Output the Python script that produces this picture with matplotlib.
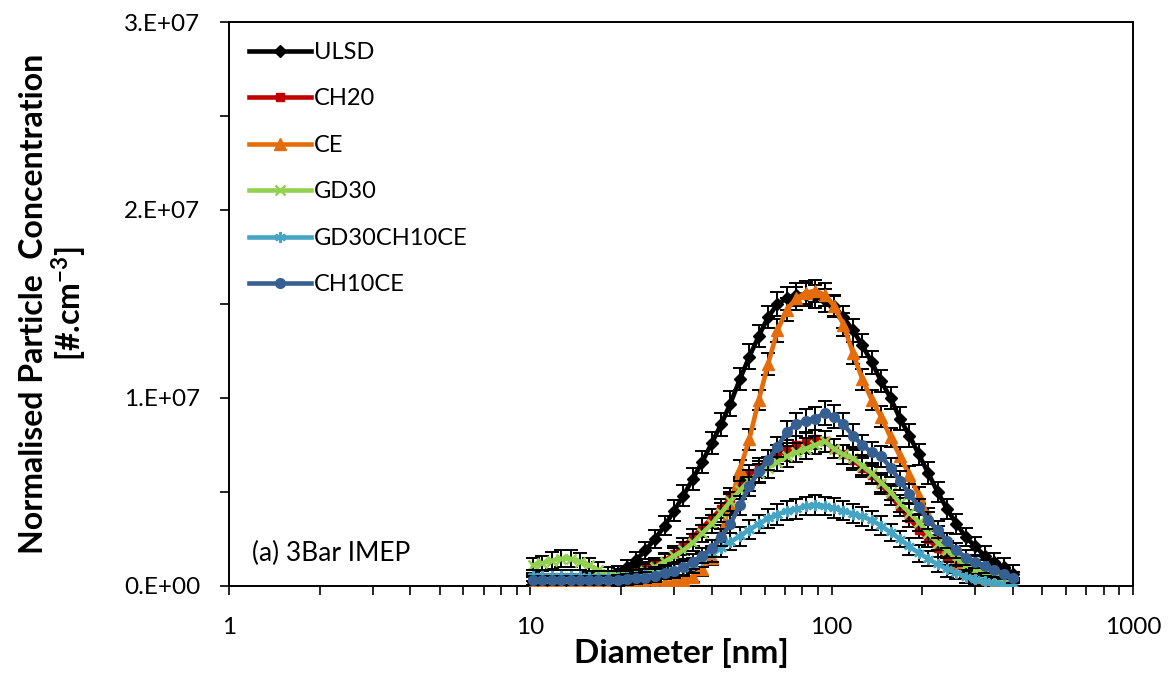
import matplotlib
matplotlib.use("Agg")
import matplotlib.pyplot as plt
from matplotlib.ticker import FixedLocator, LogLocator, NullFormatter
import numpy as np

plt.rcParams['font.family'] = ['Lato', 'DejaVu Sans']
plt.rcParams['mathtext.fontset'] = 'custom'
plt.rcParams['mathtext.rm'] = 'Lato'
plt.rcParams['mathtext.bf'] = 'Lato:bold'

# SMPS bin mid-point diameters [nm]
diameter = [10.2, 10.9, 11.8, 12.6, 13.6, 14.6, 15.7, 16.8, 18.1, 19.5,
            20.9, 22.5, 24.1, 25.9, 27.9, 30.0, 32.2, 34.6, 37.2, 40.0,
            43.0, 46.1, 49.6, 53.3, 57.3, 61.5, 66.1, 71.0, 76.4, 82.0,
            88.2, 94.7, 101.8, 109.4, 117.6, 126.4, 135.8, 145.9, 156.8, 168.5,
            181.1, 194.6, 209.1, 224.7, 241.4, 259.5, 278.8, 299.6, 322.0, 346.0,
            371.8, 399.5]

# concentrations, in units of 1e6 #/cm3
ulsd = [0.2, 0.2, 0.2, 0.2, 0.2, 0.2, 0.25, 0.3, 0.45, 0.7,
        1.0, 1.4, 1.9, 2.5, 3.2, 4.0, 4.8, 5.7, 6.6, 7.6,
        8.6, 9.7, 11.0, 12.2, 13.3, 14.3, 15.0, 15.3, 15.5, 15.5,
        15.4, 15.2, 14.9, 14.3, 13.6, 12.8, 11.9, 10.9, 10.0, 8.9,
        8.0, 7.0, 6.0, 5.0, 4.1, 3.3, 2.6, 2.1, 1.6, 1.25,
        1.0, 0.65]
ch20 = [0.35, 0.35, 0.35, 0.35, 0.35, 0.35, 0.35, 0.4, 0.45, 0.5,
        0.6, 0.75, 0.9, 1.1, 1.35, 1.7, 2.1, 2.6, 3.1, 3.6,
        4.1, 4.7, 5.3, 5.9, 6.3, 6.7, 7.0, 7.2, 7.5, 7.6,
        7.8, 7.7, 7.3, 7.0, 6.7, 6.3, 5.9, 5.4, 4.8, 4.2,
        3.6, 3.0, 2.5, 2.0, 1.5, 1.1, 0.8, 0.6, 0.45, 0.3,
        0.2, 0.1]
ce = [0.05, 0.05, 0.05, 0.05, 0.05, 0.05, 0.05, 0.05, 0.05, 0.05,
      0.07, 0.08, 0.1, 0.12, 0.15, 0.2, 0.3, 0.5, 0.9, 1.5,
      2.8, 4.4, 6.2, 7.8, 9.9, 11.8, 13.6, 14.7, 15.3, 15.6,
      15.7, 15.5, 14.9, 13.9, 12.4, 11.0, 9.9, 9.0, 7.9, 6.9,
      5.9, 4.8, 3.7, 2.8, 2.0, 1.3, 0.8, 0.5, 0.3, 0.2,
      0.1, 0.05]
gd30 = [1.1, 1.2, 1.35, 1.45, 1.45, 1.3, 1.1, 0.85, 0.65, 0.55,
        0.55, 0.65, 0.8, 1.0, 1.3, 1.6, 1.9, 2.3, 2.8, 3.3,
        3.9, 4.5, 5.1, 5.6, 6.0, 6.3, 6.6, 6.9, 7.1, 7.3,
        7.5, 7.7, 7.3, 7.0, 6.8, 6.4, 6.0, 5.5, 5.0, 4.4,
        3.9, 3.4, 2.8, 2.3, 1.9, 1.5, 1.1, 0.85, 0.65, 0.45,
        0.3, 0.1]
gd30ch10ce = [0.55, 0.55, 0.55, 0.55, 0.55, 0.55, 0.5, 0.5, 0.5, 0.5,
              0.5, 0.55, 0.6, 0.65, 0.75, 0.85, 0.95, 1.1, 1.4, 1.7,
              2.0, 2.35, 2.65, 3.0, 3.3, 3.6, 3.8, 4.0, 4.1, 4.25,
              4.3, 4.25, 4.15, 4.0, 3.85, 3.7, 3.5, 3.2, 2.85, 2.5,
              2.1, 1.75, 1.45, 1.15, 0.9, 0.7, 0.5, 0.35, 0.25, 0.15,
              0.1, 0.05]
ch10ce = [0.3, 0.3, 0.3, 0.3, 0.3, 0.3, 0.3, 0.3, 0.3, 0.3,
          0.35, 0.4, 0.45, 0.55, 0.7, 0.8, 1.0, 1.3, 1.6, 2.0,
          2.6, 3.3, 4.3, 5.3, 6.1, 6.7, 7.4, 8.2, 8.6, 8.8,
          8.9, 9.2, 9.0, 8.6, 8.0, 7.5, 7.1, 6.9, 6.3, 5.6,
          4.9, 4.2, 3.5, 3.0, 2.4, 1.9, 1.5, 1.3, 1.05, 0.85,
          0.65, 0.45]

# standard deviation (error bars), same units
ulsd_err = [0.3, 0.3, 0.3, 0.3, 0.3, 0.3, 0.3, 0.3, 0.35, 0.35,
            0.4, 0.4, 0.45, 0.5, 0.5, 0.55, 0.55, 0.6, 0.6, 0.6,
            0.6, 0.65, 0.6, 0.65, 0.6, 0.6, 0.65, 0.6, 0.6, 0.6,
            0.6, 0.6, 0.55, 0.6, 0.6, 0.6, 0.6, 0.6, 0.6, 0.6,
            0.6, 0.55, 0.6, 0.55, 0.55, 0.55, 0.5, 0.5, 0.5, 0.5,
            0.5, 0.45]
ch20_err = [0.3, 0.3, 0.3, 0.3, 0.3, 0.3, 0.3, 0.3, 0.3, 0.35,
            0.35, 0.35, 0.4, 0.4, 0.4, 0.45, 0.45, 0.45, 0.5, 0.5,
            0.5, 0.5, 0.5, 0.55, 0.5, 0.55, 0.5, 0.55, 0.5, 0.55,
            0.5, 0.55, 0.5, 0.5, 0.55, 0.5, 0.5, 0.5, 0.5, 0.5,
            0.45, 0.45, 0.45, 0.45, 0.4, 0.4, 0.4, 0.35, 0.35, 0.3,
            0.3, 0.3]
ce_err = [0.2, 0.2, 0.2, 0.2, 0.2, 0.2, 0.2, 0.2, 0.2, 0.2,
          0.2, 0.2, 0.25, 0.25, 0.25, 0.3, 0.3, 0.3, 0.35, 0.4,
          0.45, 0.5, 0.5, 0.55, 0.55, 0.6, 0.6, 0.6, 0.6, 0.6,
          0.6, 0.6, 0.6, 0.6, 0.6, 0.55, 0.55, 0.55, 0.5, 0.5,
          0.5, 0.45, 0.45, 0.4, 0.4, 0.35, 0.3, 0.3, 0.25, 0.2,
          0.2, 0.2]
gd30_err = [0.4, 0.4, 0.45, 0.45, 0.45, 0.45, 0.4, 0.4, 0.35, 0.35,
            0.35, 0.35, 0.35, 0.4, 0.4, 0.4, 0.45, 0.45, 0.45, 0.5,
            0.5, 0.5, 0.5, 0.55, 0.5, 0.55, 0.5, 0.55, 0.5, 0.55,
            0.5, 0.55, 0.5, 0.5, 0.5, 0.5, 0.5, 0.5, 0.45, 0.45,
            0.45, 0.45, 0.45, 0.4, 0.4, 0.4, 0.35, 0.35, 0.3, 0.3,
            0.3, 0.3]
gd30ch10ce_err = [0.3, 0.3, 0.3, 0.3, 0.3, 0.3, 0.3, 0.3, 0.3, 0.3,
                  0.3, 0.3, 0.3, 0.35, 0.35, 0.35, 0.4, 0.4, 0.4, 0.45,
                  0.45, 0.45, 0.5, 0.5, 0.5, 0.5, 0.55, 0.5, 0.55, 0.5,
                  0.55, 0.5, 0.55, 0.5, 0.5, 0.5, 0.5, 0.5, 0.45, 0.45,
                  0.45, 0.45, 0.4, 0.4, 0.4, 0.35, 0.35, 0.3, 0.3, 0.3,
                  0.3, 0.3]
ch10ce_err = [0.25, 0.25, 0.25, 0.25, 0.25, 0.25, 0.25, 0.25, 0.25, 0.3,
              0.3, 0.3, 0.3, 0.35, 0.35, 0.35, 0.4, 0.4, 0.4, 0.45,
              0.45, 0.5, 0.5, 0.5, 0.55, 0.55, 0.55, 0.6, 0.6, 0.6,
              0.6, 0.65, 0.6, 0.6, 0.6, 0.55, 0.55, 0.55, 0.5, 0.5,
              0.5, 0.45, 0.45, 0.45, 0.4, 0.4, 0.4, 0.35, 0.35, 0.35,
              0.3, 0.3]

y_ticks = [0, 1e7, 2e7, 3e7]
y_tick_labels = ['0.E+00', '1.E+07', '2.E+07', '3.E+07']
x_ticks = [1, 10, 100, 1000]
x_tick_labels = ['1', '10', '100', '1000']

series = [
    ("ULSD", ulsd, ulsd_err, "black", "D", 6.5, 1.0),
    ("CH20", ch20, ch20_err, "#C00000", "s", 6, 1.0),
    ("CE", ce, ce_err, "#E46C0A", "^", 8, 1.0),
    ("GD30", gd30, gd30_err, "#92D050", "x", 7, 1.8),
    ("GD30CH10CE", gd30ch10ce, gd30ch10ce_err, "#46A5C4", (6, 2, 0), 8, 1.8),
    ("CH10CE", ch10ce, ch10ce_err, "#376092", "o", 7, 1.0),
]

fig = plt.figure(figsize=(11.7, 6.75), dpi=100)
ax = fig.add_axes([0.1957, 0.1319, 0.7727, 0.8355])

d = np.array(diameter)
for i, (name, vals, errs, col, mk, ms, mew) in enumerate(series):
    y = np.array(vals) * 1e6
    e = np.array(errs) * 1e6
    ax.errorbar(d, y, yerr=e, fmt='none', ecolor='black', elinewidth=1.4,
                capsize=5, capthick=1.4, zorder=2 + 2 * i)
    ax.plot(d, y, color=col, lw=3.3, marker=mk, ms=ms, mew=mew,
            mec=col, mfc=col, label=name, zorder=3 + 2 * i)

ax.set_xscale('log')
ax.set_xlim(1, 1000)
ax.set_ylim(0, 3e7)
ax.xaxis.set_major_locator(FixedLocator(x_ticks))
ax.set_xticklabels(x_tick_labels)
ax.xaxis.set_minor_locator(LogLocator(base=10, subs=np.arange(2, 10)))
ax.xaxis.set_minor_formatter(NullFormatter())
ax.yaxis.set_major_locator(FixedLocator(y_ticks))
ax.set_yticklabels(y_tick_labels)
ax.yaxis.set_minor_locator(FixedLocator([0.5e7, 1.5e7, 2.5e7]))

ax.tick_params(axis='both', which='both', direction='out', length=6.5, width=1.2,
               labelsize=17.5)
ax.tick_params(axis='x', which='major', pad=16)
ax.tick_params(axis='y', which='major', pad=14)
for sp in ax.spines.values():
    sp.set_linewidth(1.4)

ax.set_xlabel('Diameter [nm]', fontsize=24, fontweight='bold', labelpad=0)
ax.set_ylabel('Normalised Particle  Concentration\n[#.cm$^{\\mathbf{-3}}$]',
              fontsize=23, fontweight='bold', labelpad=26, linespacing=1.05)

ax.text(0.026, 0.058, '(a) 3Bar IMEP', transform=ax.transAxes, fontsize=19,
        ha='left', va='center')

ax.legend(loc='upper left', bbox_to_anchor=(0.004, 0.994), frameon=False,
          fontsize=17, handlelength=2.6, handletextpad=0.15, labelspacing=1.08,
          borderaxespad=0.3)

fig.savefig('out.png', dpi=100)
